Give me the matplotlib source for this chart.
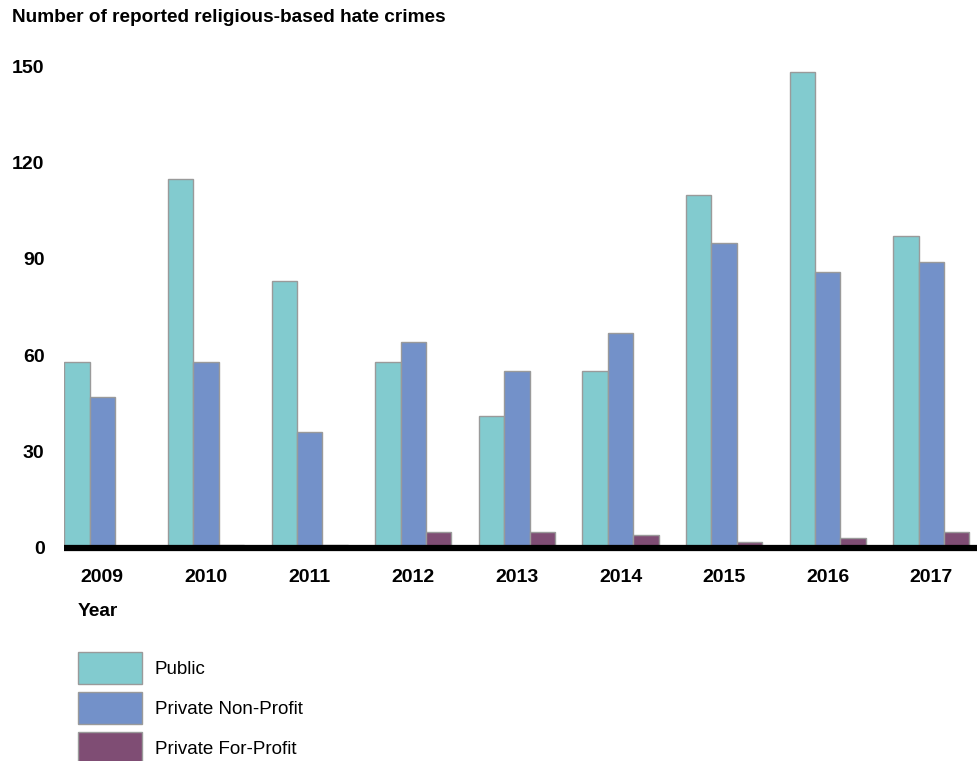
import matplotlib
matplotlib.use("Agg")
import matplotlib.pyplot as plt
import matplotlib.patches as mpatches
import numpy as np

plt.rcParams['font.family'] = ['Liberation Sans', 'DejaVu Sans']

years = ["2009", "2010", "2011", "2012", "2013", "2014", "2015", "2016", "2017"]
public = [58, 115, 83, 58, 41, 55, 110, 148, 97]
private_nonprofit = [47, 58, 36, 64, 55, 67, 95, 86, 89]
private_forprofit = [0, 1, 1, 5, 5, 4, 2, 3, 5]

series_names = ["Public", "Private Non-Profit", "Private For-Profit"]
colors = ["#82cbcf", "#7391c9", "#7f4d74"]
edge = "#9a9a9a"

fig = plt.figure(figsize=(9.77, 7.61), dpi=100)
ax = fig.add_axes([64 / 977, 1 - 548 / 761, 1 - 64 / 977, 152 * 3.213 / 761])

x = np.arange(len(years))
w = 0.245
for i, vals in enumerate([public, private_nonprofit, private_forprofit]):
    ax.bar(x + (i - 1) * w, vals, width=w, color=colors[i], edgecolor=edge, linewidth=1.0, zorder=2)

# thick black baseline
ax.axhline(0, color="black", linewidth=4.5, zorder=3, clip_on=False, solid_capstyle="butt")
ax.set_xlim(-0.37, 8.44)
ax.set_ylim(0, 152)
ax.set_yticks([0, 30, 60, 90, 120, 150])
ax.set_xticks(x)
ax.set_xticklabels(years)
for s in ax.spines.values():
    s.set_visible(False)
ax.tick_params(axis="both", length=0, labelsize=14)
ax.tick_params(axis="y", pad=14)
ax.tick_params(axis="x", pad=15)
for lbl in ax.get_xticklabels() + ax.get_yticklabels():
    lbl.set_fontweight("bold")

fig.text(12 / 977, 1 - 18 / 761, "Number of reported religious-based hate crimes",
         fontsize=13.7, fontweight="bold", va="center", ha="left")
fig.text(78 / 977, 1 - 612 / 761, "Year", fontsize=13.8, fontweight="bold", va="center", ha="left")

handles = [mpatches.Patch(facecolor=c, edgecolor=edge, linewidth=1.0) for c in colors]
fig.legend(handles, series_names, loc="upper left", bbox_to_anchor=(78 / 977, 1 - 652 / 761),
           frameon=False, fontsize=13.5, handlelength=3.41, handleheight=2.24,
           labelspacing=0.43, handletextpad=0.69, borderpad=0, borderaxespad=0)

fig.savefig("out.png", dpi=100)
